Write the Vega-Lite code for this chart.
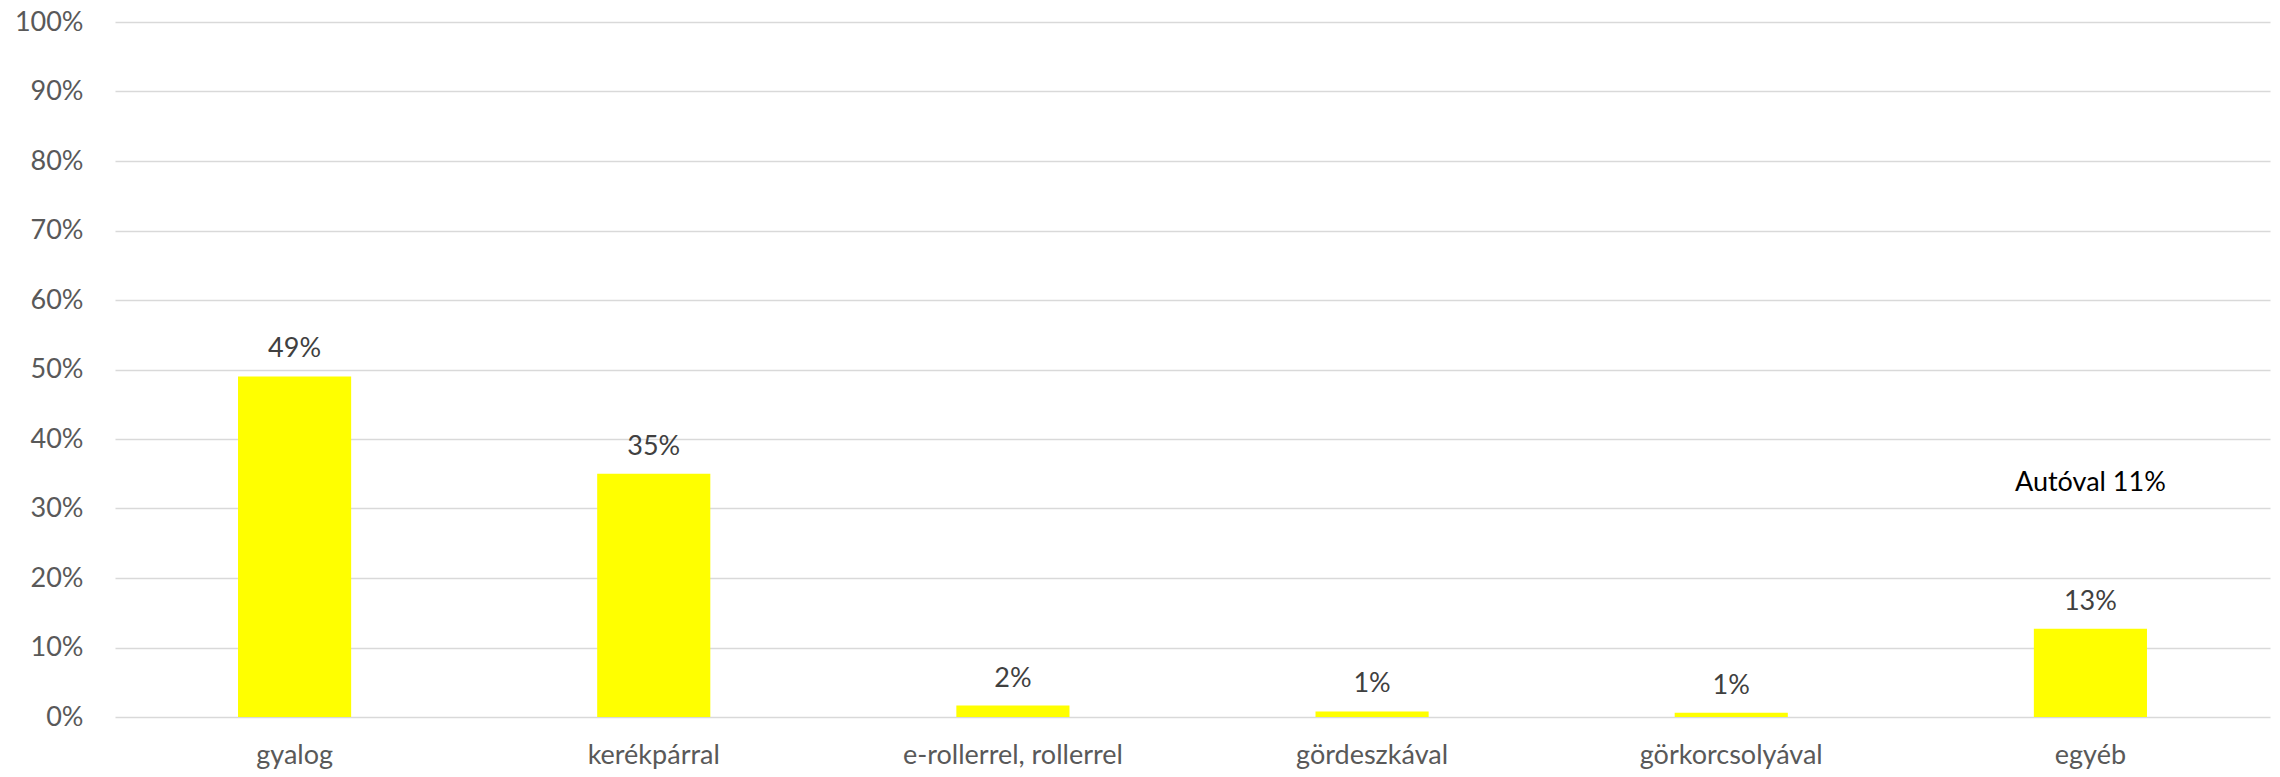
{
  "$schema": "https://vega.github.io/schema/vega-lite/v6.json",
  "autosize": {"type": "none"},
  "width": 2155,
  "height": 695,
  "padding": {"left": 115, "top": 22, "right": 10, "bottom": 60},
  "background": "white",
  "config": {
    "view": {"stroke": null},
    "font": "Lato"
  },
  "data": {
    "values": [
      {"mode": "gyalog", "share": 0.49},
      {"mode": "kerékpárral", "share": 0.35},
      {"mode": "e-rollerrel, rollerrel", "share": 0.0165},
      {"mode": "gördeszkával", "share": 0.008},
      {"mode": "görkorcsolyával", "share": 0.006},
      {"mode": "egyéb", "share": 0.127}
    ]
  },
  "encoding": {
    "x": {
      "field": "mode",
      "type": "nominal",
      "sort": null,
      "scale": {"paddingInner": 0.685, "paddingOuter": 0.3425},
      "axis": {
        "title": null,
        "labelAngle": 0,
        "labelFont": "Lato",
        "labelFontSize": 27,
        "labelColor": "#595959",
        "labelPadding": 25,
        "labelLimit": 0,
        "ticks": false,
        "domain": false
      }
    },
    "y": {
      "field": "share",
      "type": "quantitative",
      "scale": {"domain": [0, 1], "nice": false},
      "axis": {
        "title": null,
        "format": ".0%",
        "values": [0, 0.1, 0.2, 0.3, 0.4, 0.5, 0.6, 0.7, 0.8, 0.9, 1.0],
        "labelFont": "Lato",
        "labelFontSize": 27,
        "labelColor": "#595959",
        "labelPadding": 32,
        "ticks": false,
        "domain": false,
        "gridColor": "#d9d9d9",
        "gridWidth": 1.5
      }
    }
  },
  "layer": [
    {"mark": {"type": "bar", "color": "#ffff00"}},
    {
      "mark": {"type": "text", "baseline": "alphabetic", "dy": -19, "fontSize": 27, "color": "#404040", "font": "Lato"},
      "encoding": {"text": {"field": "share", "type": "quantitative", "format": ".0%"}}
    },
    {
      "data": {"values": [{"mode": "egyéb", "share": 0.337, "note": "Autóval 11%"}]},
      "mark": {"type": "text", "baseline": "middle", "fontSize": 27, "color": "#000000", "font": "Lato"},
      "encoding": {"text": {"field": "note", "type": "nominal"}}
    }
  ]
}
